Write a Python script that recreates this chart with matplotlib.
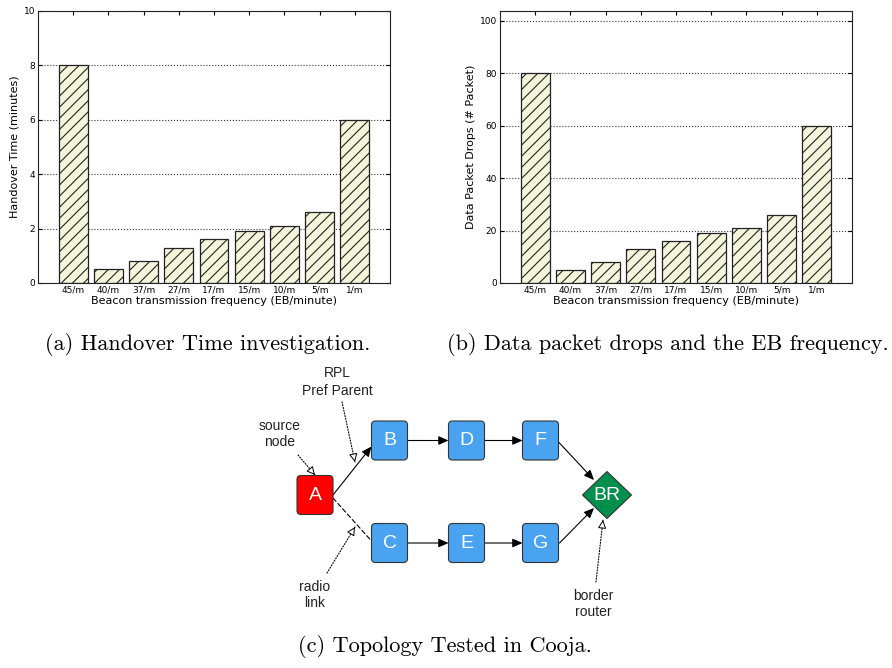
import numpy as np
import matplotlib
matplotlib.use("Agg")
import matplotlib.pyplot as plt
from matplotlib.patches import FancyBboxPatch, Polygon, FancyArrowPatch

# data
categories = ["45/m", "40/m", "37/m", "27/m", "17/m", "15/m", "10/m", "5/m", "1/m"]
handover_min = [8.0, 0.5, 0.8, 1.3, 1.6, 1.9, 2.1, 2.6, 6.0]
packet_drops = [80, 5, 8, 13, 16, 19, 21, 26, 60]
handover_ticks = [0, 2, 4, 6, 8, 10]
drops_ticks = [0, 20, 40, 60, 80, 100]

W, H = 892, 668
fig = plt.figure(figsize=(W / 100, H / 100), dpi=100)

# canvas in pixel coords for the diagram + captions
canvas = fig.add_axes([0, 0, 1, 1])
canvas.set_xlim(0, W)
canvas.set_ylim(H, 0)
canvas.axis("off")

bar_color = "#f5f5dc"
tick_fs = 6.5
label_fs = 8


def bar_panel(rect, values, ylim, yticks, ylabel):
    x0, y0, x1, y1 = rect
    ax = fig.add_axes([x0 / W, 1 - y1 / H, (x1 - x0) / W, (y1 - y0) / H])
    xs = np.arange(len(categories))
    ax.bar(xs, values, width=0.82, color=bar_color, edgecolor="#222222",
           linewidth=0.9, hatch="///")
    ax.set_xlim(-1, len(categories))
    ax.set_ylim(*ylim)
    ax.set_xticks(xs)
    ax.set_xticklabels(categories, fontsize=tick_fs)
    ax.set_yticks(yticks)
    ax.set_yticklabels([str(t) for t in yticks], fontsize=tick_fs)
    ax.tick_params(direction="in", top=True, right=True, length=3, width=0.8, pad=2)
    ax.yaxis.grid(True, linestyle=":", color="#333333", linewidth=0.8)
    ax.set_axisbelow(True)
    ax.set_xlabel("Beacon transmission frequency (EB/minute)", fontsize=label_fs, labelpad=1)
    ax.set_ylabel(ylabel, fontsize=label_fs, labelpad=3)
    for s in ax.spines.values():
        s.set_linewidth(0.8)
        s.set_color("#222222")
    return ax


plt.rcParams["hatch.linewidth"] = 0.8
ax1 = bar_panel((38, 10.7, 390, 283), handover_min, (0, 10), handover_ticks,
                "Handover Time (minutes)")
ax2 = bar_panel((500, 10.7, 852, 283), packet_drops, (0, 103.8), drops_ticks,
                "Data Packet Drops (# Packet)")

# captions
cap_font = dict(family="cmr10", fontsize=16, ha="center", va="center")
canvas.text(208, 345, "(a) Handover Time investigation.", **cap_font)
canvas.text(668, 345, "(b) Data packet drops and the EB frequency.", **cap_font)
canvas.text(445, 646, "(c) Topology Tested in Cooja.", **cap_font)

# topology diagram
sans = "Liberation Sans"
blue = "#4aa3f0"
nodes = {
    "A": (315, 495, "#ff0000"),
    "B": (389.5, 440.5, blue),
    "D": (466.5, 440.5, blue),
    "F": (540.5, 440.5, blue),
    "C": (389.5, 543, blue),
    "E": (466.5, 543, blue),
    "G": (540.5, 543, blue),
}
bw, bh = 36, 39
for name, (cx, cy, col) in nodes.items():
    canvas.add_patch(FancyBboxPatch((cx - bw / 2, cy - bh / 2), bw, bh,
                                    boxstyle="round,pad=0,rounding_size=4",
                                    fc=col, ec="#333333", lw=0.8, zorder=3))
    canvas.text(cx, cy, name, color="white", fontsize=14, family=sans,
                ha="center", va="center", zorder=4)

brx, bry = 607, 495
canvas.add_patch(Polygon([(brx - 24.5, bry), (brx, bry - 23.5), (brx + 24.5, bry),
                          (brx, bry + 23.5)], closed=True, fc="#008f4c",
                         ec="#333333", lw=0.8, zorder=3))
canvas.text(brx, bry, "BR", color="white", fontsize=14, family=sans,
            ha="center", va="center", zorder=4)


def arrow(p0, p1, ls="-", head=True):
    style = "-|>,head_length=0.5,head_width=0.22" if head else "-"
    canvas.add_patch(FancyArrowPatch(p0, p1, arrowstyle=style, mutation_scale=12,
                                     color="black", lw=0.8, linestyle=ls,
                                     shrinkA=0, shrinkB=0, zorder=2))


arrow((333, 495), (371.5, 446.5))
arrow((333, 498), (371.5, 541), ls=(0, (4, 2.5)), head=False)
arrow((407.5, 440.5), (448.5, 440.5))
arrow((484.5, 440.5), (522.5, 440.5))
arrow((407.5, 543), (448.5, 543))
arrow((484.5, 543), (522.5, 543))
arrow((558.5, 442), (594, 480))
arrow((559.5, 543), (594, 508))


def pointer(p0, p1):
    # dotted leader line with an open triangle head
    canvas.add_patch(FancyArrowPatch(p0, p1, arrowstyle="-", color="black", lw=0.8,
                                     linestyle=(0, (1, 1.5)), shrinkA=0, shrinkB=0,
                                     zorder=2))
    v = np.array(p1) - np.array(p0)
    v = v / np.hypot(*v)
    q = tuple(np.array(p1) - v * 5)
    canvas.add_patch(FancyArrowPatch(q, p1, arrowstyle="-|>,head_length=0.5,head_width=0.25",
                                     mutation_scale=10, fc="white", ec="black", lw=0.7,
                                     shrinkA=0, shrinkB=0, zorder=2))


pointer((298, 455), (315, 475))
pointer((342, 402), (355, 462))
pointer((327, 573), (355, 527))
pointer((596, 582), (603, 520))

note = dict(fontsize=10, family=sans, ha="center", va="center", color="#222222")
canvas.text(337, 373, "RPL", **note)
canvas.text(337, 391, "Pref Parent", **note)
canvas.text(280, 426, "source", **note)
canvas.text(280, 442, "node", **note)
canvas.text(315, 587, "radio", **note)
canvas.text(315, 603, "link", **note)
canvas.text(593, 596, "border", **note)
canvas.text(593, 612, "router", **note)

fig.savefig("out.png", dpi=100)
